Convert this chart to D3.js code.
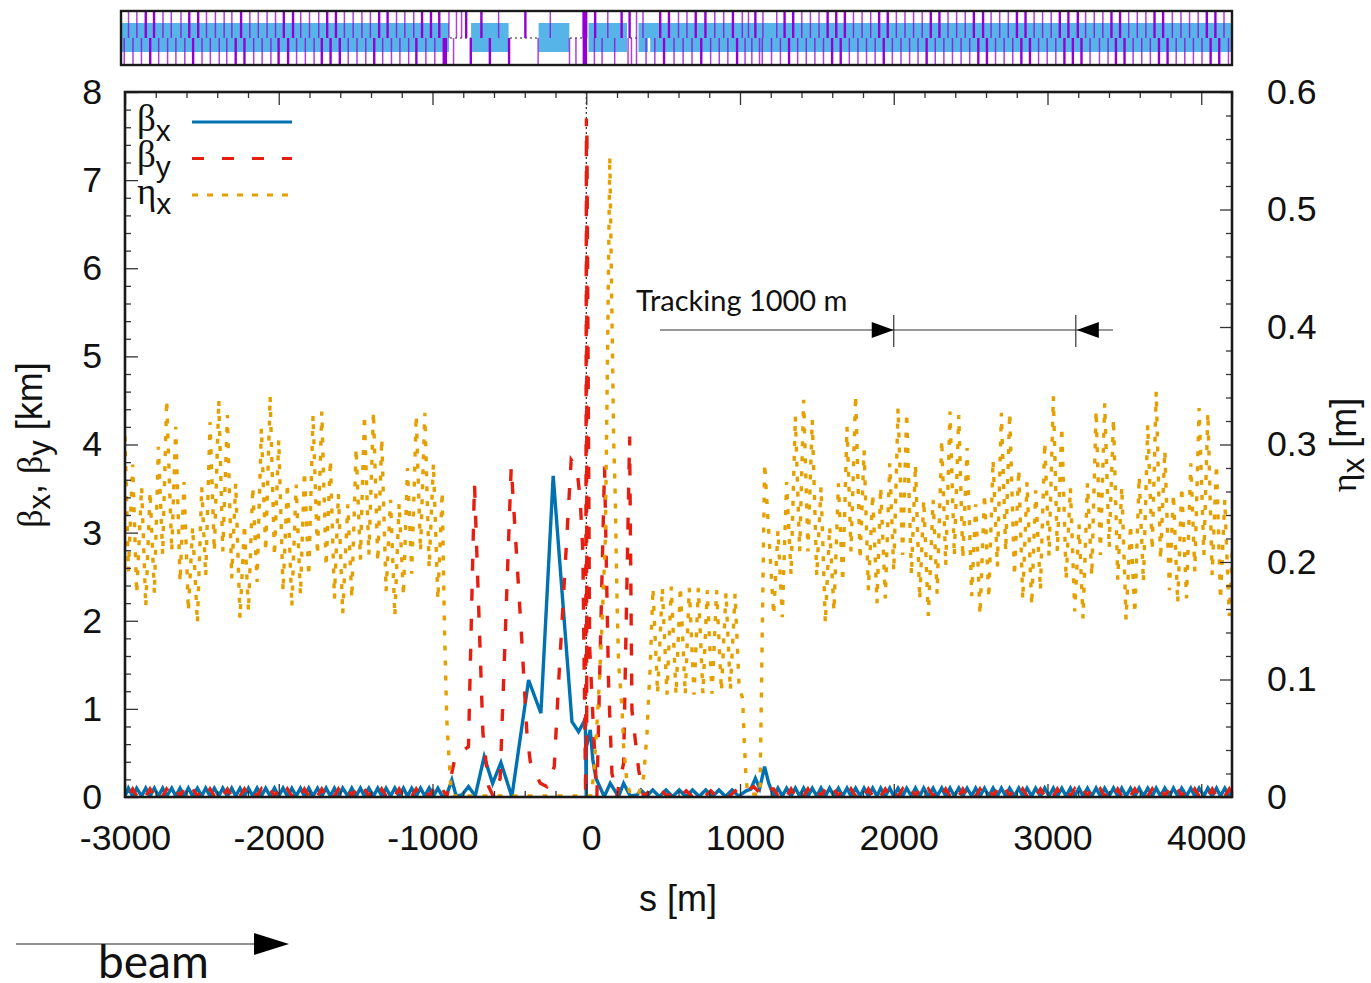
<!DOCTYPE html>
<html>
<head>
<meta charset="utf-8">
<script src="https://cdn.jsdelivr.net/npm/d3@7"></script>
<style>
  html, body { margin: 0; padding: 0; background: #fff; }
  svg { display: block; }
</style>
</head>
<body>
<script>
// tick labels
const xTicks = [-3000, -2000, -1000, 0, 1000, 2000, 3000, 4000];
const yTicks = [0, 1, 2, 3, 4, 5, 6, 7, 8];
const etaTicks = [0, 0.1, 0.2, 0.3, 0.4, 0.5, 0.6];

// left arc, all three optics curves share these s positions
const leftS = [-3000,-2978,-2950,-2924,-2892,-2865,-2837,-2809,-2783,-2755,
  -2729,-2696,-2670,-2642,-2616,-2588,-2560,-2529,-2501,-2475,
  -2447,-2419,-2390,-2364,-2334,-2306,-2280,-2252,-2223,-2197,
  -2169,-2141,-2113,-2085,-2056,-2028,-2000,-1972,-1944,-1915,
  -1887,-1859,-1833,-1805,-1777,-1748,-1720,-1692,-1664,-1638,
  -1612,-1584,-1551,-1525,-1497,-1469,-1443,-1414,-1384,-1356,
  -1330,-1302,-1273,-1245,-1217,-1189,-1163,-1135,-1106,-1078,
  -1050,-1022,-994,-965,-937];
const leftEta = [.307,.192,.283,.173,.264,.162,.260,.173,.298,.206,
  .338,.209,.315,.183,.268,.158,.230,.148,.264,.188,
  .319,.209,.338,.209,.325,.186,.267,.152,.232,.158,
  .264,.183,.314,.209,.341,.205,.304,.175,.267,.162,
  .266,.172,.277,.188,.325,.206,.328,.196,.287,.169,
  .258,.156,.249,.169,.297,.202,.325,.206,.328,.200,
  .305,.175,.253,.154,.250,.171,.280,.190,.325,.209,
  .327,.195,.284,.168,.260];
const leftBetaX = [.01,.1,.01,.1,.01,.1,.01,.1,.01,.1,
  .01,.1,.01,.1,.01,.1,.01,.1,.01,.1,
  .01,.1,.01,.1,.01,.1,.01,.1,.01,.1,
  .01,.1,.01,.1,.01,.1,.01,.1,.01,.1,
  .01,.1,.01,.1,.01,.1,.01,.1,.01,.1,
  .01,.1,.01,.1,.01,.1,.01,.1,.01,.1,
  .01,.1,.01,.1,.01,.1,.01,.1,.01,.1,
  .01,.1,.01,.1,.01];
const leftBetaY = [.09,.01,.09,.01,.09,.01,.09,.01,.09,.01,
  .09,.01,.09,.01,.09,.01,.09,.01,.09,.01,
  .09,.01,.09,.01,.09,.01,.09,.01,.09,.01,
  .09,.01,.09,.01,.09,.01,.09,.01,.09,.01,
  .09,.01,.09,.01,.09,.01,.09,.01,.09,.01,
  .09,.01,.09,.01,.09,.01,.09,.01,.09,.01,
  .09,.01,.09,.01,.09,.01,.09,.01,.09,.01,
  .09,.01,.09,.01,.09];

// straight section around the interaction point
const midEtaS = [-922,-907,-896,-881,-865,-600,-300,30,47,59,78,102,124,135,153,178,189,200,210,232,243,265,286,340,
  373,395,405,416,434,464,495,525,553,584,612,644,670,701,729,759,787,818,848,879,909,937,968,994,
  1017,1028,1039,1050,1130,1160];
const midEta = [.142,.066,.040,.009,.001,.001,.001,.001,.017,.040,.080,.145,.219,.338,.545,.306,.253,.168,.114,.077,.043,.012,.003,.002,
  .017,.054,.083,.111,.178,.088,.178,.087,.179,.087,.179,.087,.178,.087,.178,.088,.176,.088,.176,.090,.174,.091,.173,.094,
  .084,.046,.017,.003,.002,.284];

const midBetaXS = [-909,-874,-846,-809,-766,-722,-664,-609,-555,-484,-375,-295,-215,-93,-50,-6,0,1,26,43,63,117,156,210,243,286,330,356,
  395,432,476,519,562,605,648,691,734,777,820,863,906,949,992,1040,1070,1100,1128,1160,1187];
const midBetaX = [.02,.193,.012,.023,.118,.012,.458,.155,.39,.004,1.328,.95,3.643,.855,.742,.882,.004,.572,.761,.42,.212,.004,.155,.004,.155,.012,.023,.08,
  .012,.08,.004,.08,.004,.08,.004,.08,.005,.08,.004,.08,.005,.08,.01,.07,.09,.212,.099,.345,.155];

const midBetaYS = [-907,-852,-766,-727,-672,-635,-603,-560,-488,-418,-386,-364,-299,-256,-208,-180,-98,-61,-39,-22,-4,1,3,4,22,41,69,119,145,167,200,210,243,282,297,341,373,
  410,450,490,530,570,610,650,690,730,770,810,850,890,930,970,1010,1046,1089,1154,1187];
const midBetaY = [.01,.458,.572,3.56,.723,.12,0,.212,3.75,1.74,.723,.4,.155,.118,.345,1.29,3.825,3.73,3.37,2.77,0,7.7,.6,7.6,1.71,.988,0,3.75,1.29,.27,0,.118,.382,4.09,.988,.307,0,
  .07,.005,.07,.005,.07,.005,.07,.005,.07,.005,.07,.005,.07,.005,.07,.005,.07,.118,0,.09];

// right arc
const rightS = [1219,1247,1275,1303,1332,1360,1388,1414,1442,1470,
  1499,1527,1555,1583,1611,1640,1668,1696,1722,1752,
  1781,1807,1835,1863,1891,1915,1945,1974,2000,2028,
  2058,2084,2115,2141,2169,2195,2225,2256,2282,2312,
  2338,2366,2394,2423,2449,2477,2507,2533,2561,2590,
  2618,2646,2674,2700,2728,2754,2785,2813,2839,2867,
  2897,2923,2954,2982,3010,3038,3064,3093,3121,3149,
  3177,3205,3231,3260,3288,3316,3344,3372,3401,3429,
  3457,3483,3511,3540,3568,3596,3624,3652,3681,3707,
  3735,3763,3793,3819,3847,3873,3904,3932,3958,3986,
  4017,4043,4071,4099,4125,4153,4182,4210];
const rightEta = [.155,.227,.153,.268,.189,.324,.209,.338,.209,.321,
  .188,.264,.148,.230,.158,.267,.183,.315,.209,.342,
  .202,.295,.176,.258,.165,.264,.169,.284,.192,.331,
  .206,.327,.189,.283,.168,.253,.154,.253,.173,.304,
  .197,.328,.205,.325,.203,.297,.171,.249,.155,.258,
  .169,.287,.196,.327,.209,.327,.188,.279,.168,.268,
  .163,.261,.176,.302,.205,.341,.209,.315,.185,.263,
  .158,.232,.152,.267,.188,.329,.206,.335,.212,.322,
  .185,.264,.151,.232,.156,.273,.183,.317,.210,.345,
  .202,.295,.176,.258,.165,.264,.169,.284,.192,.331,
  .206,.327,.189,.283,.168,.253,.154,.233];
const rightBetaX = [.01,.1,.01,.1,.01,.1,.01,.1,.01,.1,
  .01,.1,.01,.1,.01,.1,.01,.1,.01,.1,
  .01,.1,.01,.1,.01,.1,.01,.1,.01,.1,
  .01,.1,.01,.1,.01,.1,.01,.1,.01,.1,
  .01,.1,.01,.1,.01,.1,.01,.1,.01,.1,
  .01,.1,.01,.1,.01,.1,.01,.1,.01,.1,
  .01,.1,.01,.1,.01,.1,.01,.1,.01,.1,
  .01,.1,.01,.1,.01,.1,.01,.1,.01,.1,
  .01,.1,.01,.1,.01,.1,.01,.1,.01,.1,
  .01,.1,.01,.1,.01,.1,.01,.1,.01,.1,
  .01,.1,.01,.1,.01,.1,.01,.1];
const rightBetaY = [.09,.01,.09,.01,.09,.01,.09,.01,.09,.01,
  .09,.01,.09,.01,.09,.01,.09,.01,.09,.01,
  .09,.01,.09,.01,.09,.01,.09,.01,.09,.01,
  .09,.01,.09,.01,.09,.01,.09,.01,.09,.01,
  .09,.01,.09,.01,.09,.01,.09,.01,.09,.01,
  .09,.01,.09,.01,.09,.01,.09,.01,.09,.01,
  .09,.01,.09,.01,.09,.01,.09,.01,.09,.01,
  .09,.01,.09,.01,.09,.01,.09,.01,.09,.01,
  .09,.01,.09,.01,.09,.01,.09,.01,.09,.01,
  .09,.01,.09,.01,.09,.01,.09,.01,.09,.01,
  .09,.01,.09,.01,.09,.01,.09,.01];

// lattice strip: dipole blocks [from, to] and magnets as s positions
const dipolesUpper = [[-3026,-893],[-749,-505],[-310,-110],[15,265],[340,4200]];
const dipolesLower = [[-3026,-893],[-749,-505],[-310,-110],[15,265],[340,401],[416,4200]];
const upperThin = [-2977,-2923,-2753,-2699,-2636,-2470,-2412,-2355,-2305,-2188,-2133,-2076,-2021,-1857,-1800,-1740,
  -1573,-1516,-1459,-1404,-1234,-1180,-1122,-893,-844,-811,-570,-234,140,327,369,600,655,
  836,894,1015,1055,1149,1239,1402,1458,1514,1738,1794,1850,2017,2073,2129,2185,2353,2409,2465,2633,2689,2745,
  2913,2968,3024,3248,3304,3360,3528,3584,3640,3812,3868,3924,3980,4148];
const upperThick = [-2865,-2811,-2582,-2524,-2245,-1967,-1907,-1685,-1628,-1347,-1292,-1068,-1010,-956,-781,-682,-396,
  58,230,282,481,538,712,775,954,1100,1290,1346,1570,1626,1682,1905,1961,2241,2297,2521,2581,2801,2857,
  3080,3136,3197,3416,3472,3696,3752,4036,4092];
const lowerThin = [-3005,-2948,-2893,-2781,-2723,-2669,-2611,-2499,-2445,-2387,-2338,-2163,-2108,-2051,-1884,-1827,-1770,
  -1548,-1491,-1434,-1324,-1267,-1212,-1155,-1043,-985,-863,-313,-109,-67,53,103,185,272,294,327,389,446,571,630,688,
  809,865,921,1033,1077,1127,1145,1205,1263,1375,1431,1487,1543,1711,1767,1823,1879,1991,2047,2103,2158,2270,2326,2382,2438,2494,
  2662,2718,2774,2942,2998,3054,3277,3338,3394,3557,3613,3669,3837,3893,3949,4005,4177];
const lowerThick = [-2836,-2557,-2280,-2223,-2001,-1939,-1720,-1663,-1603,-1379,-1105,-751,-627,-502,506,748,981,
  1319,1599,1655,1935,2214,2550,2606,2830,2886,3110,3165,3221,3445,3501,3725,3781,4061,4117];
const heavyUpper = [-9];
const heavyLower = [-920, -9];

const trackingRange = [2000, 3184];

const W = 1371, H = 983;
const margin = {top: 92, right: 139, bottom: 186, left: 125};
const width = W - margin.left - margin.right;
const height = H - margin.top - margin.bottom;

const tickFont = "Liberation Sans";
const noteFont = "Lato";
const greekFont = "Liberation Serif";
const dark = "#1a1a1a";
const blue = "#0072B2", red = "#E51E10", orange = "#E69F00";

const x = d3.scaleLinear().domain([-3000, 4200]).range([margin.left, margin.left + width]);
const y = d3.scaleLinear().domain([0, 8]).range([margin.top + height, margin.top]);
const yEta = d3.scaleLinear().domain([0, 0.6]).range([margin.top + height, margin.top]);

const svg = d3.select("body").append("svg").attr("width", W).attr("height", H);

svg.append("defs").append("clipPath").attr("id", "plot")
  .append("rect").attr("x", margin.left).attr("y", margin.top).attr("width", width).attr("height", height);

// ---- lattice strip ----
const stripTop = 11, stripMid = 38, stripBottom = 65, bandTop = 23, bandBottom = 52;

svg.append("line")
  .attr("x1", x(-3000)).attr("x2", x(4200)).attr("y1", stripMid).attr("y2", stripMid)
  .attr("stroke", "#222").attr("stroke-width", 1).attr("stroke-dasharray", "2 3");

svg.selectAll(".dipU").data(dipolesUpper).enter().append("rect")
  .attr("x", d => x(d[0])).attr("width", d => x(d[1]) - x(d[0]))
  .attr("y", bandTop).attr("height", stripMid - bandTop).attr("fill", "#56B4E9");
svg.selectAll(".dipL").data(dipolesLower).enter().append("rect")
  .attr("x", d => x(d[0])).attr("width", d => x(d[1]) - x(d[0]))
  .attr("y", stripMid).attr("height", bandBottom - stripMid).attr("fill", "#56B4E9");

function magnets(list, y1, y2, w, op) {
  svg.append("g").selectAll("line").data(list).enter().append("line")
    .attr("x1", d => x(d)).attr("x2", d => x(d))
    .attr("y1", y1).attr("y2", y2)
    .attr("stroke", "#9400D3").attr("stroke-width", w).attr("stroke-opacity", op);
}
magnets(upperThin, stripTop, stripMid, 1.5, 0.75);
magnets(lowerThin, stripMid, stripBottom, 1.5, 0.75);
magnets(upperThick, stripTop, stripMid, 2.4, 1);
magnets(lowerThick, stripMid, stripBottom, 2.4, 1);
magnets(heavyUpper, stripTop, stripMid, 5, 1);
magnets(heavyLower, stripMid, stripBottom, 4.5, 1);

svg.append("rect")
  .attr("x", 121).attr("y", stripTop).attr("width", 1232 - 121).attr("height", stripBottom - stripTop)
  .attr("fill", "none").attr("stroke", dark).attr("stroke-width", 2.4);

// ---- curves ----
const zip = (ss, vs) => ss.map((s, i) => [s, vs[i]]);
const betaX = [].concat(zip(leftS, leftBetaX), zip(midBetaXS, midBetaX), zip(rightS, rightBetaX));
const betaY = [].concat(zip(leftS, leftBetaY), zip(midBetaYS, midBetaY), zip(rightS, rightBetaY));
const eta = [].concat(zip(leftS, leftEta), zip(midEtaS, midEta), zip(rightS, rightEta));

const plot = svg.append("g").attr("clip-path", "url(#plot)");

// thin dotted marker at s = 0
plot.append("line")
  .attr("x1", x(0)).attr("x2", x(0)).attr("y1", y(8)).attr("y2", y(0))
  .attr("stroke", "#000").attr("stroke-width", 1).attr("stroke-dasharray", "2 3");

const lineB = d3.line().x(d => x(d[0])).y(d => y(d[1]));
const lineE = d3.line().x(d => x(d[0])).y(d => yEta(d[1]));

plot.append("path").datum(betaX).attr("d", lineB)
  .attr("fill", "none").attr("stroke", blue).attr("stroke-width", 3.4).attr("stroke-linejoin", "miter");
// offset puts a dash on the apex of the big peak
plot.append("path").datum(betaY).attr("d", lineB)
  .attr("fill", "none").attr("stroke", red).attr("stroke-width", 3.4)
  .attr("stroke-dasharray", "12 18").attr("stroke-dashoffset", -12);
plot.append("path").datum(eta).attr("d", lineE)
  .attr("fill", "none").attr("stroke", orange).attr("stroke-width", 3.4).attr("stroke-dasharray", "5 10");

// ---- axes ----
const minorX = d3.range(-3000, 4201, 200).filter(d => !xTicks.includes(d));
const minorY = d3.range(0, 8.01, 0.2).map(d => +d.toFixed(1)).filter(d => !yTicks.includes(d));
const minorEta = d3.range(0, 0.601, 0.02).map(d => +d.toFixed(2)).filter(d => !etaTicks.includes(d));

function styleTicks(g, font) {
  g.select(".domain").remove();
  g.selectAll("line").attr("stroke", "#333").attr("stroke-width", 1.3);
  g.selectAll("text").attr("font-family", tickFont).attr("font-size", font).attr("fill", "#111");
}

const bottom = margin.top + height, right = margin.left + width;

svg.append("g").attr("transform", `translate(0,${bottom})`)
  .call(d3.axisBottom(x).tickValues(xTicks).tickSize(-13).tickPadding(28).tickFormat(d => d))
  .call(g => styleTicks(g, 35.7))
  .call(g => g.selectAll("text").attr("dx", d => d >= 0 ? 5 : 0));
svg.append("g").attr("transform", `translate(0,${bottom})`)
  .call(d3.axisBottom(x).tickValues(minorX).tickSize(-6).tickFormat(""))
  .call(g => styleTicks(g, 1));
svg.append("g").attr("transform", `translate(0,${margin.top})`)
  .call(d3.axisTop(x).tickValues(xTicks).tickSize(-13).tickFormat(""))
  .call(g => styleTicks(g, 1));
svg.append("g").attr("transform", `translate(0,${margin.top})`)
  .call(d3.axisTop(x).tickValues(minorX).tickSize(-6).tickFormat(""))
  .call(g => styleTicks(g, 1));

svg.append("g").attr("transform", `translate(${margin.left},0)`)
  .call(d3.axisLeft(y).tickValues(yTicks).tickSize(-13).tickPadding(23).tickFormat(d => d))
  .call(g => styleTicks(g, 35.7));
svg.append("g").attr("transform", `translate(${margin.left},0)`)
  .call(d3.axisLeft(y).tickValues(minorY).tickSize(-6).tickFormat(""))
  .call(g => styleTicks(g, 1));

svg.append("g").attr("transform", `translate(${right},0)`)
  .call(d3.axisRight(yEta).tickValues(etaTicks).tickSize(-12).tickPadding(35).tickFormat(d => d))
  .call(g => styleTicks(g, 35.7));
svg.append("g").attr("transform", `translate(${right},0)`)
  .call(d3.axisRight(yEta).tickValues(minorEta).tickSize(-6).tickFormat(""))
  .call(g => styleTicks(g, 1));

svg.append("rect")
  .attr("x", margin.left).attr("y", margin.top).attr("width", width).attr("height", height)
  .attr("fill", "none").attr("stroke", dark).attr("stroke-width", 2.6);

// axis titles
function subLabel(sel, parts, size, subSize, drop) {
  // parts: [text, isGreek, isSub]
  parts.forEach((p, i) => {
    const prevSub = i > 0 && parts[i - 1][2];
    sel.append("tspan")
      .attr("font-family", p[1] ? greekFont : tickFont)
      .attr("font-size", p[2] ? subSize : size)
      .attr("dy", p[2] ? drop : (prevSub ? -drop : 0))
      .text(p[0]);
  });
}

svg.append("text")
  .attr("transform", "translate(42,445) rotate(-90)")
  .attr("text-anchor", "middle").attr("fill", "#111")
  .call(subLabel, [["β", 1, 0], ["x", 0, 1], [", ", 0, 0], ["β", 1, 0], ["y", 0, 1], [" [km]", 0, 0]], 36, 31, 8);

svg.append("text")
  .attr("transform", "translate(1356,445) rotate(-90)")
  .attr("text-anchor", "middle").attr("fill", "#111")
  .call(subLabel, [["η", 1, 0], ["x", 0, 1], [" [m]", 0, 0]], 36, 31, 8);

svg.append("text")
  .attr("x", 678).attr("y", 911).attr("text-anchor", "middle")
  .attr("font-family", tickFont).attr("font-size", 36).attr("fill", "#111")
  .text("s [m]");

// ---- legend ----
const legendNames = [["β", "x"], ["β", "y"], ["η", "x"]];
const legendY = [122, 158.5, 195];
const legendBase = [131, 167, 204];
const legendColors = [blue, red, orange];
const legendDash = [null, "12 18", "6 9"];

legendNames.forEach((n, i) => {
  svg.append("text").attr("x", 137).attr("y", legendBase[i]).attr("fill", "#111")
    .call(subLabel, [[n[0], 1, 0], [n[1], 0, 1]], 37, 30, 10);
  svg.append("line")
    .attr("x1", 192).attr("x2", 292).attr("y1", legendY[i]).attr("y2", legendY[i])
    .attr("stroke", legendColors[i]).attr("stroke-width", 3)
    .attr("stroke-dasharray", legendDash[i]);
});

// ---- tracking annotation ----
const annY = 330;
const annLine = "#333";
svg.append("line").attr("x1", 660).attr("x2", 1113).attr("y1", annY).attr("y2", annY)
  .attr("stroke", annLine).attr("stroke-width", 1.2);
trackingRange.forEach(s => {
  svg.append("line").attr("x1", x(s)).attr("x2", x(s)).attr("y1", 315).attr("y2", 347)
    .attr("stroke", annLine).attr("stroke-width", 1.2);
});
svg.append("path")
  .attr("d", `M${x(trackingRange[0])},${annY} l-22,-8 v16 z`).attr("fill", "#000");
svg.append("path")
  .attr("d", `M${x(trackingRange[1]) + 1},${annY} l22,-8 v16 z`).attr("fill", "#000");
svg.append("text").attr("x", 636).attr("y", 311)
  .attr("font-family", noteFont).attr("font-size", 29).attr("fill", "#111")
  .text("Tracking 1000 m");

// ---- beam arrow ----
svg.append("line").attr("x1", 16).attr("x2", 256).attr("y1", 944).attr("y2", 944)
  .attr("stroke", "#222").attr("stroke-width", 1.2);
svg.append("path").attr("d", "M289,944 L254,933 V955 Z").attr("fill", "#000");
svg.append("text").attr("x", 98).attr("y", 978)
  .attr("font-family", noteFont).attr("font-size", 46).attr("fill", "#111")
  .text("beam");
</script>
</body>
</html>
